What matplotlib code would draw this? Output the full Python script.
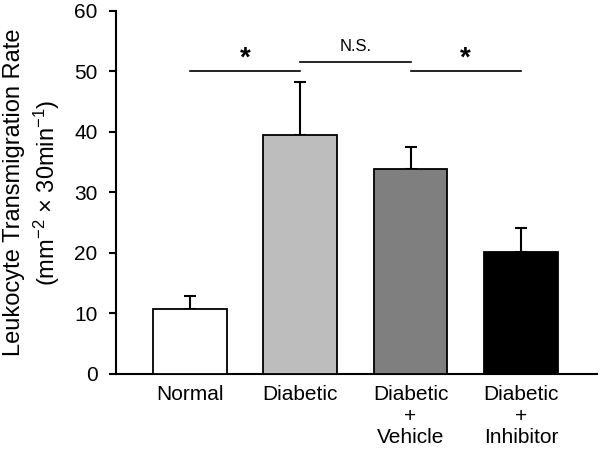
import matplotlib
matplotlib.use("Agg")
import matplotlib.pyplot as plt

plt.rcParams['font.family'] = ['Liberation Sans', 'DejaVu Sans']
plt.rcParams['mathtext.fontset'] = 'custom'
plt.rcParams['mathtext.rm'] = 'Liberation Sans'
plt.rcParams['mathtext.it'] = 'Liberation Sans'

groups = ["Normal", "Diabetic", "Diabetic\n+\nVehicle", "Diabetic\n+\nInhibitor"]
means = [10.7, 39.5, 33.9, 20.1]
errors = [2.1, 8.8, 3.6, 4.0]
colors = ["white", "#bdbdbd", "#7f7f7f", "black"]

# significance brackets: (start, end, height, label)
comparisons = [(0, 1, 50.1, "*"), (1, 2, 51.5, "N.S."), (2, 3, 50.1, "*")]

fig = plt.figure(figsize=(6, 4.51), dpi=100)
ax = fig.add_axes([0.193, 0.171, 0.802, 0.805])

x = list(range(len(groups)))
ax.bar(x, means, width=0.67, color=colors, edgecolor="black", linewidth=1.3, zorder=3)
ax.errorbar(x, means, yerr=[[0] * len(errors), errors], fmt="none", ecolor="black",
            elinewidth=1.5, capsize=4, capthick=1.5, zorder=2)

for a, b, h, lab in comparisons:
    ax.plot([a, b], [h, h], color="black", linewidth=1.2, clip_on=False)
    if lab == "*":
        ax.text((a + b) / 2, h - 0.2, lab, ha="center", va="bottom", fontsize=20, fontweight="bold")
    else:
        ax.text((a + b) / 2, h + 1.3, lab, ha="center", va="bottom", fontsize=12)

ax.set_xlim(-0.671, 3.69)
ax.set_ylim(0, 60)
ax.set_yticks([0, 10, 20, 30, 40, 50, 60])
ax.set_xticks(x)
ax.set_xticklabels(groups, fontsize=15, linespacing=1.17)
ax.tick_params(axis="x", length=0, pad=8)
ax.tick_params(axis="y", labelsize=15, length=5, width=1.5, direction="out", pad=8)
ax.spines["top"].set_visible(False)
ax.spines["right"].set_visible(False)
ax.spines["left"].set_linewidth(1.5)
ax.spines["bottom"].set_linewidth(1.5)

ax.set_ylabel("Leukocyte Transmigration Rate\n(mm$^{-2}$ × 30min$^{-1}$)", fontsize=17,
              linespacing=1.28, labelpad=9)

fig.savefig("out.png", dpi=100)
